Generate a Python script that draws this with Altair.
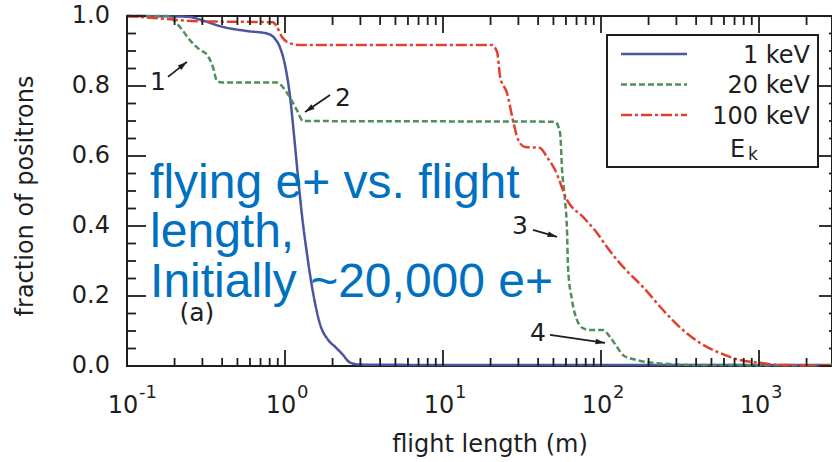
import math
import altair as alt
import pandas as pd

# ---------------- data ----------------
series = ["1 keV", "20 keV", "100 keV"]
colors = ["#4a55a2", "#4f8f5b", "#e2402e"]
dashes = [[1, 0], [6, 3], [11, 3, 3, 3]]

blue_x = [0.1, 0.24, 0.312, 0.388, 0.575, 0.769, 0.864, 0.93, 1.0, 1.076, 1.14, 1.209,
          1.281, 1.378, 1.504, 1.665, 1.872, 2.073, 2.295, 2.579, 2.984, 10, 100, 2897]
blue_y = [1.0, 0.998, 0.985, 0.971, 0.957, 0.95, 0.935, 0.91, 0.86, 0.77, 0.66, 0.54,
          0.43, 0.32, 0.21, 0.12, 0.075, 0.055, 0.035, 0.01, 0.004, 0.003, 0.003, 0.003]

green_x = [0.1, 0.179, 0.216, 0.25, 0.29, 0.321, 0.35, 0.371, 0.399, 0.889, 1.03, 1.19, 1.30,
           51.2, 55.1, 56.7, 59.2, 61.0, 61.8, 65.5, 70.5, 76.9, 85.1, 103, 114, 126, 138,
           169, 226, 400, 2897]
green_y = [1.0, 1.0, 0.969, 0.931, 0.903, 0.889, 0.854, 0.815, 0.81, 0.81, 0.78, 0.731, 0.70,
           0.698, 0.666, 0.56, 0.474, 0.38, 0.283, 0.189, 0.131, 0.108, 0.103, 0.103, 0.083,
           0.055, 0.031, 0.017, 0.008, 0.003, 0.002]

red_x = [0.1, 0.14, 0.29, 0.839, 0.889, 0.957, 1.08, 1.24, 20.4, 22.0, 23.0, 25.4, 27.7, 29.9,
         33.0, 41.1, 45.5, 51.2, 61.0, 76.9, 94.4, 109, 138, 184, 247, 330, 423, 567, 758,
         1015, 1358, 2897]
red_y = [1.0, 0.995, 0.985, 0.982, 0.969, 0.94, 0.922, 0.917, 0.917, 0.897, 0.826, 0.78,
         0.703, 0.646, 0.626, 0.623, 0.597, 0.56, 0.474, 0.426, 0.38, 0.34, 0.283, 0.226,
         0.16, 0.103, 0.066, 0.037, 0.017, 0.009, 0.003, 0.002]

y_major = [0.0, 0.2, 0.4, 0.6, 0.8, 1.0]
y_labels = ["0.0", "0.2", "0.4", "0.6", "0.8", "1.0"]
y_minor = [0.05, 0.1, 0.15, 0.25, 0.3, 0.35, 0.45, 0.5, 0.55, 0.65, 0.7, 0.75, 0.85, 0.9, 0.95]
x_major = [0.1, 1, 10, 100, 1000]
x_exponents = ["-1", "0", "1", "2", "3"]
x_minor = [0.2, 0.3, 0.4, 0.5, 0.6, 0.7, 0.8, 0.9,
           2, 3, 4, 5, 6, 7, 8, 9,
           20, 30, 40, 50, 60, 70, 80, 90,
           200, 300, 400, 500, 600, 700, 800, 900,
           2000]
x_title = "flight length (m)"
y_title = "fraction of positrons"

# annotation labels 1-4 and arrows (data coordinates)
ann_text = ["1", "2", "3", "4"]
ann_x = [0.157, 2.33, 30.7, 39.9]
ann_y = [0.811, 0.766, 0.40, 0.094]
arrow_x_tail = [0.1817, 1.927, 37.1, 47.6]
arrow_y_tail = [0.826, 0.774, 0.389, 0.089]
arrow_x_head = [0.2397, 1.339, 52.7, 106.0]
arrow_y_head = [0.869, 0.726, 0.369, 0.066]

panel_label = "(a)"
panel_x, panel_y = 0.277, 0.152

note_lines = ["flying e+ vs. flight", "length,", "Initially ~20,000 e+"]
note_x = 0.14
note_y = [0.48, 0.34, 0.197]

# ---------------- layout ----------------
W, H = 705, 350
RIGHT_AXIS = 711          # the right frame sits just outside the cropped picture
X_MIN, X_MAX = 0.1, 2897
INK = "#1e1e1e"
FONT = "DejaVu Sans"
LOG_LO, LOG_HI = math.log10(X_MIN), math.log10(X_MAX)

x_scale = alt.Scale(type="log", domain=[X_MIN, X_MAX])
y_scale = alt.Scale(domain=[0, 1])


def X(field):
    return alt.X(field, type="quantitative", scale=x_scale, axis=None)


def Y(field):
    return alt.Y(field, type="quantitative", scale=y_scale, axis=None)


def x_at_px(px):
    """data x value found at a pixel offset px from the left of the plot (tick lengths)."""
    return 10 ** (LOG_LO + px / W * (LOG_HI - LOG_LO))


def y_at_px(py):
    return 1 - py / H


frames = []
for name, xs, ys in zip(series, [blue_x, green_x, red_x], [blue_y, green_y, red_y]):
    frames.append(pd.DataFrame({"x": xs, "y": ys, "series": name}))
df = pd.concat(frames, ignore_index=True)

color_enc = alt.Color("series:N", scale=alt.Scale(domain=series, range=colors), legend=None)
dash_enc = alt.StrokeDash("series:N", scale=alt.Scale(domain=series, range=dashes), legend=None)

lines = alt.Chart(df).mark_line(strokeWidth=2.5, interpolate="monotone").encode(
    x=X("x"), y=Y("y"), color=color_enc, strokeDash=dash_enc,
    order=alt.Order("x:Q"),
)

# inward tick marks on all four sides (segments through the chart's scales)
tick_rows = []
for vals, ln in [(y_major, 19), (y_minor, 9)]:
    for v in vals:
        tick_rows.append({"xa": x_at_px(0), "xb": x_at_px(ln), "ya": v, "yb": v})
        tick_rows.append({"xa": x_at_px(RIGHT_AXIS - ln), "xb": x_at_px(RIGHT_AXIS),
                          "ya": v, "yb": v})
for vals, lb, lt in [(x_major, 16, 17), (x_minor, 8, 9)]:
    for v in vals:
        tick_rows.append({"xa": v, "xb": v, "ya": y_at_px(H), "yb": y_at_px(H - lb)})
        tick_rows.append({"xa": v, "xb": v, "ya": y_at_px(0), "yb": y_at_px(lt)})
ticks = alt.Chart(pd.DataFrame(tick_rows)).mark_rule(color=INK, strokeWidth=1.8).encode(
    x=X("xa"), y=Y("ya"), x2="xb:Q", y2="yb:Q")

# y tick labels
ylab_df = pd.DataFrame({"v": y_major, "t": y_labels})
y_lab = alt.Chart(ylab_df).mark_text(font=FONT, fontSize=24, color=INK, align="right",
                                     baseline="middle").encode(
    y=Y("v"), x=alt.value(-17), text="t:N")

# x tick labels "10" with superscript exponent
xmaj_df = pd.DataFrame({"v": x_major, "e": x_exponents})
x_ten = alt.Chart(xmaj_df).mark_text(font=FONT, fontSize=24, color=INK, align="center",
                                     baseline="alphabetic", dx=-4).encode(
    x=X("v"), y=alt.value(397), text=alt.value("10"))
x_exp = alt.Chart(xmaj_df).mark_text(font=FONT, fontSize=18, color=INK, align="left",
                                     baseline="alphabetic", dx=12).encode(
    x=X("v"), y=alt.value(382), text="e:N")

# axis titles
one = pd.DataFrame({"a": [0]})
x_tit = alt.Chart(one).mark_text(font=FONT, fontSize=24, color=INK, align="center",
                                 baseline="alphabetic").encode(
    x=alt.value(363), y=alt.value(436), text=alt.value(x_title))
y_tit = alt.Chart(one).mark_text(font=FONT, fontSize=24, color=INK, align="center",
                                 baseline="alphabetic", angle=270).encode(
    x=alt.value(-94), y=alt.value(180), text=alt.value(y_title))

# annotations
ann_df = pd.DataFrame({"x": ann_x, "y": ann_y, "t": ann_text})
ann = alt.Chart(ann_df).mark_text(font=FONT, fontSize=25, color=INK, align="center",
                                  baseline="middle").encode(x=X("x"), y=Y("y"), text="t:N")


def to_px(xv, yv):
    return W * (math.log10(xv) - LOG_LO) / (LOG_HI - LOG_LO), H * (1 - yv)


angles = []
for xt, yt, xh, yh in zip(arrow_x_tail, arrow_y_tail, arrow_x_head, arrow_y_head):
    (pxt, pyt), (pxh, pyh) = to_px(xt, yt), to_px(xh, yh)
    angles.append(math.degrees(math.atan2(pxh - pxt, -(pyh - pyt))) % 360)

arr_df = pd.DataFrame({"xt": arrow_x_tail, "yt": arrow_y_tail,
                       "xh": arrow_x_head, "yh": arrow_y_head, "ang": angles})
shafts = alt.Chart(arr_df).mark_rule(color=INK, strokeWidth=1.8).encode(
    x=X("xt"), y=Y("yt"), x2="xh:Q", y2="yh:Q")
heads = alt.Chart(arr_df).mark_point(shape="M0,0L-0.6,2L0.6,2Z", filled=True, opacity=1,
                                     color=INK, size=90, strokeWidth=0).encode(
    x=X("xh"), y=Y("yh"), angle=alt.Angle("ang:Q", scale=None))

panel = alt.Chart(pd.DataFrame({"x": [panel_x], "y": [panel_y], "t": [panel_label]})).mark_text(
    font=FONT, fontSize=25, color=INK, align="center", baseline="middle").encode(
    x=X("x"), y=Y("y"), text="t:N")

note_df = pd.DataFrame({"x": note_x, "y": note_y, "t": note_lines})
note = alt.Chart(note_df).mark_text(font="Liberation Sans", fontSize=48, color="#0070c0",
                                    align="left", baseline="alphabetic").encode(
    x=X("x"), y=Y("y"), text="t:N")

# legend (box in the upper right of the plot)
leg_layers = [alt.Chart(one).mark_rect(fill="white", stroke=INK, strokeWidth=2).encode(
    x=alt.value(480), x2=alt.value(691), y=alt.value(19), y2=alt.value(151))]
for i, (name, col, dsh) in enumerate(zip(series, colors, dashes)):
    row_y = 38 + i * 30.5
    leg_layers.append(alt.Chart(one).mark_rule(strokeWidth=2.5, color=col, strokeDash=dsh).encode(
        x=alt.value(494), x2=alt.value(560), y=alt.value(row_y)))
    leg_layers.append(alt.Chart(one).mark_text(font=FONT, fontSize=24, color=INK, align="right",
                                               baseline="alphabetic").encode(
        x=alt.value(683), y=alt.value(row_y + 8.5), text=alt.value(name)))
leg_layers.append(alt.Chart(one).mark_text(font=FONT, fontSize=24, color=INK, align="left",
                                           baseline="alphabetic").encode(
    x=alt.value(603), y=alt.value(141), text=alt.value("E")))
leg_layers.append(alt.Chart(one).mark_text(font=FONT, fontSize=17, color=INK, align="left",
                                           baseline="alphabetic").encode(
    x=alt.value(621), y=alt.value(144), text=alt.value("k")))

chart = alt.layer(lines, ticks, y_lab, x_ten, x_exp, x_tit, y_tit, shafts, heads, ann, panel,
                  note, *leg_layers).properties(
    width=W, height=H,
    autosize=alt.AutoSizeParams(type="none"),
    padding={"left": 127, "top": 16, "right": 0, "bottom": 96},
    background="white",
).configure_view(stroke=INK, strokeWidth=2)

chart.save("out.html", embed_options={"renderer": "svg", "actions": False})
